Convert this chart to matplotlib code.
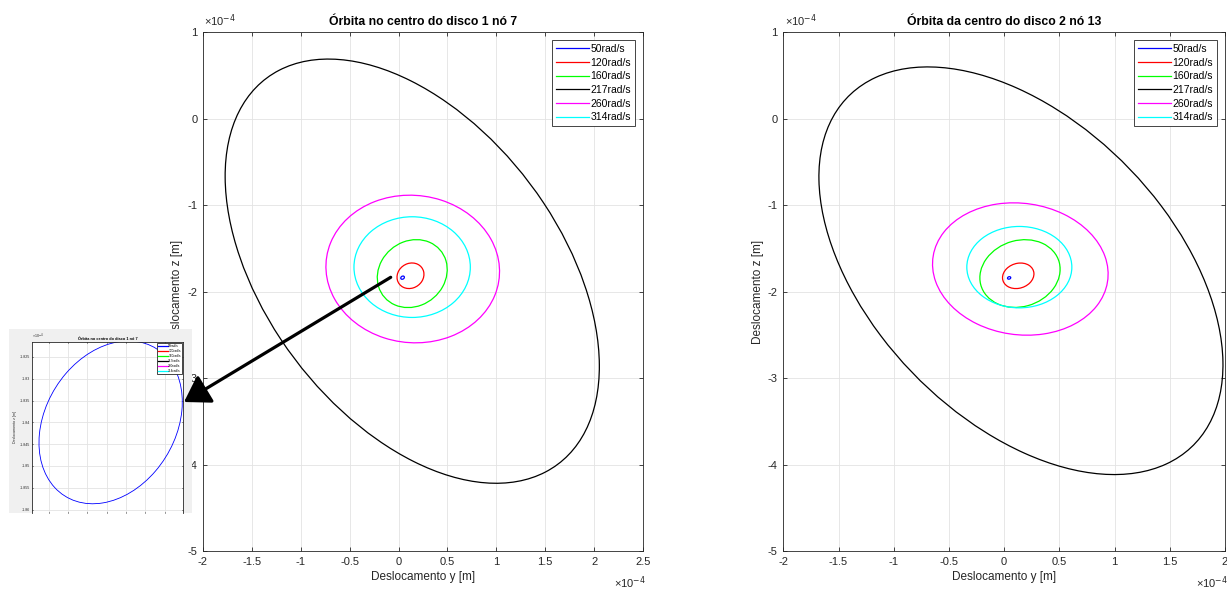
import matplotlib
matplotlib.use('Agg')
import matplotlib.pyplot as plt
from matplotlib.patches import Ellipse, Rectangle, FancyArrowPatch
from matplotlib.lines import Line2D
from matplotlib.ticker import FuncFormatter

plt.rcParams['font.family'] = ['Liberation Sans', 'DejaVu Sans']

# rotações e cores (matlab b r g k m c)
labels = ['50rad/s', '120rad/s', '160rad/s', '217rad/s', '260rad/s', '314rad/s']
colors = ['#0000ff', '#ff0000', '#00ff00', '#000000', '#ff00ff', '#00ffff']

# órbitas em 1e-4 m: centro y, centro z, semi-eixo maior, semi-eixo menor, ângulo [graus]
d1_cy = [0.041, 0.122, 0.140, 0.140, 0.145, 0.139]
d1_cz = [-1.840, -1.818, -1.793, -1.765, -1.740, -1.718]
d1_a = [0.0208, 0.152, 0.403, 2.692, 0.893, 0.595]
d1_b = [0.0161, 0.133, 0.346, 1.558, 0.848, 0.582]
d1_ang = [46, 61, 64, -59.6, -20, 0]

d2_cy = [0.045, 0.1275, 0.1435, 0.152, 0.1465, 0.1375]
d2_cz = [-1.843, -1.8185, -1.7925, -1.760, -1.740, -1.7185]
d2_a = [0.016, 0.1556, 0.4045, 2.593, 0.813, 0.4755]
d2_b = [0.013, 0.1334, 0.349, 1.475, 0.746, 0.4705]
d2_ang = [45, 52, 60.3, -59.5, -31.7, 0]

# zoom do disco 1 (50 rad/s)
zoom_yticks = [-1.825, -1.83, -1.835, -1.84, -1.845, -1.85, -1.855, -1.86]

W, H = 1227, 590
fmt = FuncFormatter(lambda v, p: '%g' % v)
edge = '#262626'


def px(x0, y0, x1, y1):
    # caixa em pixels -> fração da figura
    return [x0 / W, 1 - y1 / H, (x1 - x0) / W, (y1 - y0) / H]


def orbita(ax, cy, cz, a, b, ang, lw=0.9):
    for i in range(len(labels)):
        ax.add_patch(Ellipse((cy[i], cz[i]), 2 * a[i], 2 * b[i], angle=ang[i],
                             fill=False, ec=colors[i], lw=lw))


def estilo(ax, fs=8, ln=3):
    for s in ax.spines.values():
        s.set_color(edge)
        s.set_linewidth(0.6)
    ax.tick_params(direction='in', top=True, right=True, length=ln, width=0.6,
                   colors=edge, labelsize=fs, pad=4)
    ax.grid(True, color='#e3e3e3', lw=0.6)
    ax.set_axisbelow(True)
    ax.xaxis.set_major_formatter(fmt)
    ax.yaxis.set_major_formatter(fmt)


def legenda(ax, fs=7.5, pad=0.8):
    hs = [Line2D([], [], color=c, lw=0.9) for c in colors]
    lg = ax.legend(hs, labels, loc='upper right', fontsize=fs, fancybox=False,
                   framealpha=1, edgecolor=edge, borderaxespad=pad,
                   handlelength=3.2, labelspacing=0.35, handletextpad=0.1,
                   borderpad=0.35)
    lg.get_frame().set_linewidth(0.6)
    return lg


fig = plt.figure(figsize=(W / 100, H / 100), dpi=100)

ax1 = fig.add_axes(px(203, 32, 643, 551))
ax2 = fig.add_axes(px(783.3, 32, 1225, 551))

paineis = [(ax1, d1_cy, d1_cz, d1_a, d1_b, d1_ang, 'Órbita no centro do disco 1 nó 7', 2.5),
           (ax2, d2_cy, d2_cz, d2_a, d2_b, d2_ang, 'Órbita da centro do disco 2 nó 13', 2.0)]

for ax, cy, cz, a, b, ang, tit, xmax in paineis:
    orbita(ax, cy, cz, a, b, ang)
    ax.set_xlim(-2, xmax)
    ax.set_ylim(-5, 1)
    ax.set_xticks([v * 0.5 for v in range(-4, int(xmax * 2) + 1)])
    ax.set_yticks(range(-5, 2))
    estilo(ax)
    ax.set_title(tit, fontsize=8.8, fontweight='bold', pad=5)
    ax.set_xlabel('Deslocamento y [m]', fontsize=8.5, labelpad=3, color=edge)
    ax.set_ylabel('Deslocamento z [m]', fontsize=8.5, labelpad=3, color=edge)
    ax.annotate('×10$^{-4}$', xy=(0, 1), xycoords='axes fraction', xytext=(1, 2),
                textcoords='offset points', ha='left', va='bottom', fontsize=8, color=edge)
    ax.annotate('×10$^{-4}$', xy=(1, 0), xycoords='axes fraction', xytext=(2, -17),
                textcoords='offset points', ha='right', va='top', fontsize=8, color=edge)
    legenda(ax)

# recorte da janela de zoom (print do matlab)
fig.add_artist(Rectangle((9 / W, 1 - 513 / H), 183 / W, 184 / H, transform=fig.transFigure,
                         fc='#f0f0f0', ec='none', zorder=4))
axz = fig.add_axes(px(31.7, 341.7, 183, 513), zorder=5)
orbita(axz, d1_cy, d1_cz, d1_a, d1_b, d1_ang, lw=0.6)
axz.set_xlim(0.0206, 0.0597)
axz.set_ylim(-1.8608, -1.8215)
axz.set_xticks([0.025, 0.03, 0.035, 0.04, 0.045, 0.05, 0.055])
axz.set_yticks(zoom_yticks)
estilo(axz, fs=2.6, ln=1)
axz.tick_params(pad=1.5, labelbottom=False)
axz.spines['bottom'].set_visible(False)
axz.set_title('Órbita no centro do disco 1 nó 7', fontsize=2.75, fontweight='bold', pad=1.5)
axz.set_ylabel('Deslocamento z [m]', fontsize=2.6, labelpad=2, color=edge)
axz.annotate('×10$^{-4}$', xy=(0, 1), xycoords='axes fraction', xytext=(0.5, 0.5),
             textcoords='offset points', ha='left', va='bottom', fontsize=2.6, color=edge)
lz = legenda(axz, fs=2.3, pad=0.3)

# seta do ponto azul até o zoom
seta = FancyArrowPatch((390.7 / W, 1 - 277.3 / H), (184 / W, 1 - 402 / H),
                       transform=fig.transFigure, arrowstyle='-|>,head_length=0.55,head_width=0.35',
                       mutation_scale=28, lw=2.3, color='k', shrinkA=0, shrinkB=0, zorder=10)
fig.add_artist(seta)

fig.savefig('out.png', dpi=100)
